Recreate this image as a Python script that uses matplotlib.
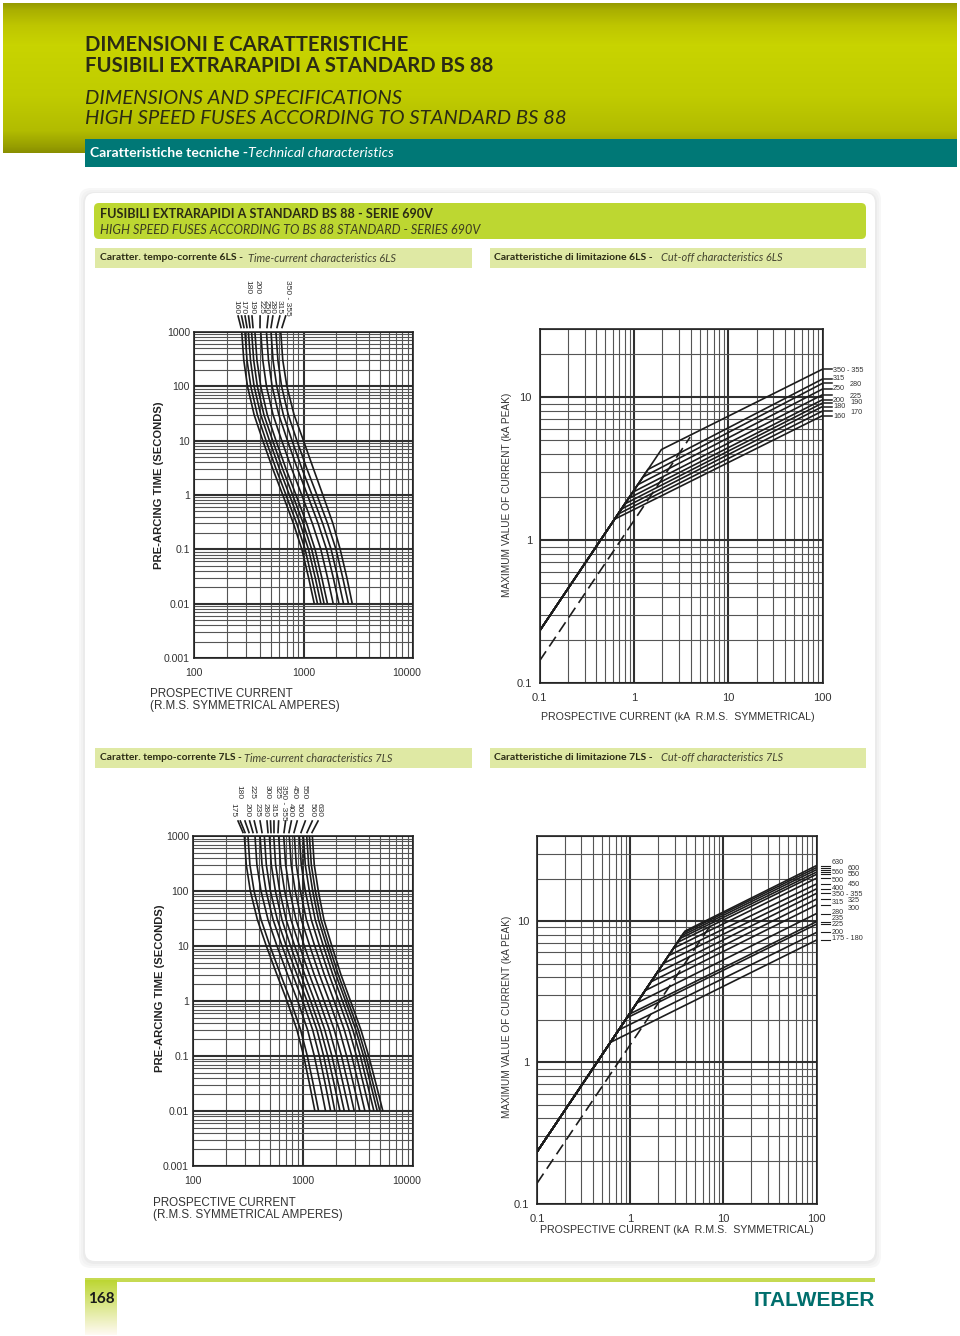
import numpy as np
import matplotlib
matplotlib.use('Agg')
import matplotlib.pyplot as plt
from matplotlib.patches import FancyBboxPatch, Rectangle
from matplotlib.transforms import ScaledTranslation

W, H = 960, 1336
ARIAL = 'Liberation Sans'
HEAD = 'Lato'

# time-current charts: prospective current (A) of each fuse at the listed times (s)
TIMES = [1000, 300, 100, 30, 10, 3, 1, 0.3, 0.1, 0.03, 0.01]

LS6_RATINGS = ['160', '170', '180', '190', '200', '225', '250', '280', '315', '350 - 355']
LS6_CURRENTS = [
    [273, 285, 308, 354, 425, 525, 647, 809, 966, 1113, 1254],
    [292, 305, 330, 379, 455, 562, 692, 866, 1034, 1191, 1342],
    [314, 328, 354, 407, 489, 604, 744, 930, 1111, 1280, 1442],
    [336, 351, 379, 435, 523, 646, 796, 995, 1188, 1369, 1542],
    [360, 376, 407, 467, 561, 693, 854, 1068, 1275, 1469, 1655],
    [407, 425, 459, 527, 633, 782, 964, 1205, 1439, 1658, 1868],
    [459, 479, 517, 595, 714, 882, 1087, 1359, 1623, 1870, 2107],
    [505, 527, 570, 655, 786, 971, 1197, 1497, 1787, 2059, 2320],
    [560, 584, 631, 726, 871, 1076, 1326, 1658, 1980, 2282, 2571],
    [620, 647, 705, 820, 1000, 1235, 1503, 1855, 2163, 2490, 2786],
]

LS7_RATINGS = ['175', '180', '200', '225', '235', '280', '300', '315', '325', '350 - 355',
               '400', '450', '500', '550', '560', '630']
LS7_CURRENTS = [
    [293, 305, 332, 385, 464, 580, 716, 880, 1014, 1150, 1282],
    [316, 329, 359, 416, 501, 626, 773, 950, 1095, 1242, 1385],
    [366, 381, 415, 481, 580, 725, 895, 1100, 1268, 1438, 1603],
    [407, 424, 461, 535, 645, 806, 995, 1223, 1409, 1599, 1782],
    [445, 464, 505, 585, 705, 882, 1088, 1338, 1541, 1748, 1949],
    [495, 515, 561, 644, 771, 955, 1174, 1448, 1680, 1925, 2167],
    [542, 564, 614, 703, 841, 1039, 1277, 1576, 1831, 2102, 2372],
    [601, 625, 681, 778, 929, 1144, 1406, 1735, 2021, 2325, 2628],
    [668, 695, 757, 864, 1029, 1266, 1554, 1922, 2238, 2580, 2923],
    [750, 781, 850, 966, 1152, 1411, 1732, 2140, 2492, 2885, 3282],
    [835, 869, 946, 1075, 1278, 1564, 1918, 2373, 2774, 3212, 3654],
    [926, 964, 1049, 1190, 1412, 1727, 2114, 2620, 3063, 3554, 4051],
    [1008, 1049, 1142, 1292, 1532, 1867, 2286, 2833, 3321, 3861, 4410],
    [1081, 1125, 1225, 1384, 1638, 1990, 2436, 3020, 3547, 4134, 4731],
    [1143, 1190, 1295, 1460, 1725, 2095, 2558, 3178, 3734, 4359, 5000],
    [1216, 1266, 1378, 1550, 1830, 2214, 2704, 3360, 3956, 4630, 5320],
]

# cut-off charts: line starts on the envelope, leaves it at a break, ends at 100 kA
CUT6_START = [0.1, 0.231]
CUT6_BREAK_X = [0.624, 0.68, 0.74, 0.80, 0.88, 0.97, 1.1, 1.25, 1.41, 1.96]
CUT6_BREAK_Y = [1.40, 1.52, 1.65, 1.79, 1.96, 2.16, 2.44, 2.76, 3.12, 4.30]
CUT6_END_Y = [7.43, 8.0, 8.6, 9.1, 9.6, 10.4, 11.4, 12.5, 13.4, 15.7]
CUT6_DASH_X = [0.1, 3.95]
CUT6_DASH_Y = [0.1426, 5.25]

CUT7_RATINGS = ['175 - 180', '200', '225', '235', '280', '300', '315', '325', '350 - 355',
                '400', '450', '500', '550', '560', '600', '630']
CUT7_START = [0.1, 0.232]
CUT7_BREAK_X = [0.61, 0.75, 0.92, 0.98, 1.18, 1.45, 1.67, 1.93, 2.27, 2.58, 2.92, 3.21, 3.43, 3.6, 3.76, 3.88]
CUT7_BREAK_Y = [1.38, 1.69, 2.06, 2.19, 2.63, 3.22, 3.71, 4.28, 5.01, 5.68, 6.42, 7.05, 7.52, 7.89, 8.24, 8.49]
CUT7_END_Y = [7.33, 8.3, 9.5, 9.9, 11.3, 13.0, 14.3, 15.7, 16.9, 18.3, 20.1, 21.4, 22.2, 23.1, 23.9, 24.7]
CUT7_DASH_X = [0.1, 8.15]
CUT7_DASH_Y = [0.139, 10.4]

TIME_XTICKS = [100, 1000, 10000]
TIME_YTICKS = [0.001, 0.01, 0.1, 1, 10, 100, 1000]
CUT_XTICKS = [0.1, 1, 10, 100]
CUT_YTICKS = [0.1, 1, 10]


def make_axes(fig, left, top, right, bottom):
    ax = fig.add_axes([left / W, 1 - bottom / H, (right - left) / W, (bottom - top) / H])
    ax.patch.set_alpha(0)
    ax.set_xscale('log')
    ax.set_yscale('log')
    ax.set_axisbelow(True)
    ax.grid(True, which='major', color='#303030', lw=1.5)
    ax.grid(True, which='minor', color='#555555', lw=0.8)
    ax.tick_params(which='both', length=0, labelcolor='#333333')
    for s in ax.spines.values():
        s.set_color('#222222')
        s.set_linewidth(1.2)
    return ax


def label_ticks(ax, xt, yt):
    ax.set_xticks(xt)
    ax.set_xticklabels([str(v) for v in xt], fontfamily=ARIAL)
    ax.set_yticks(yt)
    ax.set_yticklabels([str(v) for v in yt], fontfamily=ARIAL)
    ax.xaxis.set_minor_formatter(matplotlib.ticker.NullFormatter())
    ax.yaxis.set_minor_formatter(matplotlib.ticker.NullFormatter())


def time_chart(fig, box, currents):
    ax = make_axes(fig, *box)
    for row in currents:
        ax.plot(row, TIMES, color='#1c1c1c', lw=1.2, solid_capstyle='butt')
    ax.set_xlim(100, 10000)
    ax.set_ylim(0.001, 1000)
    label_ticks(ax, TIME_XTICKS, TIME_YTICKS)
    ax.tick_params(axis='x', labelsize=7.6, pad=7.5)
    ax.tick_params(axis='y', labelsize=7.6, pad=3)
    # the 10000 label sits a little inside the axis end
    last = ax.get_xticklabels()[-1]
    last.set_transform(last.get_transform() + ScaledTranslation(-6 / 100, 0, fig.dpi_scale_trans))
    return ax


def cut_chart(fig, box, ymax, start, bx, by, ey, dx, dy, lead, lead_lw):
    ax = make_axes(fig, *box)
    for i in range(len(bx)):
        ax.plot([start[0], bx[i], 100], [start[1], by[i], ey[i]], color='#1c1c1c', lw=1.2)
        # short lead line to the rating label
        ax.plot(lead, [ey[i], ey[i]], color='#1c1c1c', lw=lead_lw,
                transform=ax.get_yaxis_transform(), clip_on=False)
    ax.plot(dx, dy, color='#1c1c1c', lw=1.2, dashes=(7, 3.5))
    ax.set_xlim(0.1, 100)
    ax.set_ylim(0.1, ymax)
    label_ticks(ax, CUT_XTICKS, CUT_YTICKS)
    ax.tick_params(axis='x', labelsize=8, pad=7.5)
    ax.tick_params(axis='y', labelsize=8, pad=5.5)
    return ax


fig = plt.figure(figsize=(W / 100, H / 100), dpi=100, facecolor='white')
page = fig.add_axes([0, 0, 1, 1])
page.axis('off')

# header band
stops_y = [3, 10, 25, 45, 95, 130, 146, 153]
stops_r = [150, 170, 190, 200, 192, 178, 150, 135]
stops_g = [155, 176, 198, 212, 204, 188, 158, 140]
rows = np.arange(3, 153)
band = np.zeros((len(rows), 1, 3))
band[:, 0, 0] = np.interp(rows, stops_y, stops_r) / 255
band[:, 0, 1] = np.interp(rows, stops_y, stops_g) / 255
page.imshow(band, extent=(3, 957, 153, 3), aspect='auto', zorder=1)
page.set_xlim(0, W)
page.set_ylim(H, 0)
page.add_patch(Rectangle((85, 139), 872, 28, fc='#007876', ec='none', zorder=2))

# white card with a soft shadow
for grow, col in [(6, '#f7f7f7'), (4, '#f2f2f2'), (2, '#ebebeb')]:
    page.add_patch(FancyBboxPatch((85 - grow, 193 - grow + 1), 790 + 2 * grow, 1068 + 2 * grow,
                                  boxstyle='round,pad=0,rounding_size=12', fc=col, ec='none', zorder=1))
page.add_patch(FancyBboxPatch((85, 193), 790, 1068, boxstyle='round,pad=0,rounding_size=10',
                              fc='white', ec='none', zorder=2))
page.add_patch(FancyBboxPatch((94, 203), 772, 36, boxstyle='round,pad=0,rounding_size=5',
                              fc='#bdd731', ec='none', zorder=3))
for x0, x1 in [(95, 472), (490, 866)]:
    for y0 in [248, 748]:
        page.add_patch(Rectangle((x0, y0), x1 - x0, 20, fc='#dfe9a4', ec='none', zorder=3))


def t(x, y, s, size, **kw):
    kw.setdefault('family', HEAD)
    kw.setdefault('color', '#2b2b14')
    kw.setdefault('va', 'center')
    page.text(x, y, s, fontsize=size, zorder=5, **kw)


t(85, 45, 'DIMENSIONI E CARATTERISTICHE', 14.6, weight='bold')
t(85, 66, 'FUSIBILI EXTRARAPIDI A STANDARD BS 88', 14.6, weight='bold')
t(85, 98, 'DIMENSIONS AND SPECIFICATIONS', 14.6, style='italic')
t(85, 119, 'HIGH SPEED FUSES ACCORDING TO STANDARD BS 88', 14.6, style='italic')
t(90, 153, 'Caratteristiche tecniche -', 10.1, color='white', weight='bold')
t(248, 153, 'Technical characteristics', 10.3, color='white', style='italic')
t(100, 214, 'FUSIBILI EXTRARAPIDI A STANDARD BS 88 - SERIE 690V', 9.1, weight='bold')
t(100, 230, 'HIGH SPEED FUSES ACCORDING TO BS 88 STANDARD - SERIES 690V', 9.05, style='italic', color='#3d3d20')
t(100, 258, 'Caratter. tempo-corrente 6LS -', 7.5, weight='bold')
t(248, 258, 'Time-current characteristics 6LS', 7.9, style='italic', color='#444430')
t(494, 258, 'Caratteristiche di limitazione 6LS -', 7.5, weight='bold')
t(661, 258, 'Cut-off characteristics 6LS', 7.9, style='italic', color='#444430')
t(100, 758, 'Caratter. tempo-corrente 7LS -', 7.4, weight='bold')
t(244, 758, 'Time-current characteristics 7LS', 7.9, style='italic', color='#444430')
t(494, 758, 'Caratteristiche di limitazione 7LS -', 7.5, weight='bold')
t(661, 758, 'Cut-off characteristics 7LS', 7.9, style='italic', color='#444430')

# footer
page.add_patch(Rectangle((85, 1278), 790, 3.5, fc='#c6da52', ec='none', zorder=2))
fade = np.linspace(0, 1, 55).reshape(-1, 1, 1) * np.array([[[0.26, 0.14, 0.75]]])
page.imshow(np.clip(np.array([[[0.74, 0.84, 0.2]]]) + fade, 0, 1), extent=(85, 117, 1335, 1280),
            aspect='auto', zorder=2)
page.set_xlim(0, W)
page.set_ylim(H, 0)
t(101, 1299, '168', 11, weight='bold', ha='center', color='#1a1a1a')
t(875, 1300, 'ITALWEBER', 15, family=ARIAL, weight='bold', ha='right', color='#006e6c')

# charts
time_chart(fig, (194, 332, 413, 658), LS6_CURRENTS)
time_chart(fig, (193, 836, 413, 1166), LS7_CURRENTS)
cut_chart(fig, (539.5, 329, 822.5, 683), 30, CUT6_START, CUT6_BREAK_X, CUT6_BREAK_Y, CUT6_END_Y,
          CUT6_DASH_X, CUT6_DASH_Y, [1.0, 1.033], 1.1)
cut_chart(fig, (537, 836, 816.5, 1203.5), 40, CUT7_START, CUT7_BREAK_X, CUT7_BREAK_Y, CUT7_END_Y,
          CUT7_DASH_X, CUT7_DASH_Y, [1.015, 1.05], 0.8)


def a(x, y, s, size=8.4, **kw):
    kw.setdefault('color', '#333333')
    t(x, y, s, size, family=ARIAL, **kw)


a(159, 485, 'PRE-ARCING TIME (SECONDS)', 8.1, rotation=90, ha='center', weight='bold', color='#222222')
a(160, 988, 'PRE-ARCING TIME (SECONDS)', 8.1, rotation=90, ha='center', weight='bold', color='#222222')
a(150, 694, 'PROSPECTIVE CURRENT', 8.4)
a(150, 706, '(R.M.S. SYMMETRICAL AMPERES)', 8.4)
a(153, 1203, 'PROSPECTIVE CURRENT', 8.4)
a(153, 1215, '(R.M.S. SYMMETRICAL AMPERES)', 8.4)
a(507, 495, 'MAXIMUM VALUE OF CURRENT (kA PEAK)', 7.3, rotation=90, ha='center')
a(507, 1017, 'MAXIMUM VALUE OF CURRENT (kA PEAK)', 7.2, rotation=90, ha='center')
a(541, 717, 'PROSPECTIVE CURRENT (kA  R.M.S.  SYMMETRICAL)', 7.7)
a(540, 1230, 'PROSPECTIVE CURRENT (kA  R.M.S.  SYMMETRICAL)', 7.7)

# rating labels over the time-current charts: x, top of the text, then the lead line
LS6_LABEL_X = [236, 243, 248, 252, 257, 261, 266, 272, 279, 287]
LS6_LABEL_TOP = [300, 300, 280, 300, 280, 300, 300, 300, 300, 280]
LS6_TICK_X = [241, 244, 247, 250, 253, 260, 267, 271, 277, 282]
LS7_LABEL_X = [233, 239, 247, 252, 257, 265, 267, 273, 277, 284, 290, 294, 299, 304, 312, 319]
LS7_LABEL_TOP = [803, 785, 803, 785, 803, 803, 785, 803, 785, 785, 803, 785, 803, 785, 803, 803]
LS7_TICK_X = [243, 245, 249, 253, 257, 262, 268, 271, 274, 278, 284, 289, 294, 301, 307, 312]

for names, lx, ltop, tx, y0 in [(LS6_RATINGS, LS6_LABEL_X, LS6_LABEL_TOP, LS6_TICK_X, 316),
                                (LS7_RATINGS, LS7_LABEL_X, LS7_LABEL_TOP, LS7_TICK_X, 821)]:
    mid = np.mean(tx)
    for i in range(len(names)):
        a(lx[i], ltop[i], names[i], 6, rotation=270, ha='center', va='top')
        lean = (tx[i] - mid) * 0.16
        page.plot([tx[i] + lean, tx[i]], [y0, y0 + 11.5], color='#1c1c1c', lw=1.2, zorder=4)

# rating labels right of the cut-off charts
CUT6_LABEL_X = [833, 850, 833, 850, 833, 850, 833, 850, 833, 833]
CUT6_LABEL_Y = [416, 412, 407, 403, 400, 396, 389, 384, 379, 370]
CUT7_LABEL_X = [832, 832, 832, 832, 832, 848, 832, 848, 832, 832, 848, 832, 848, 832, 848, 832]
CUT7_LABEL_Y = [939, 932, 924, 919, 912, 908, 903, 900, 894, 888, 884, 880, 875, 872, 868, 863]
for i in range(len(LS6_RATINGS)):
    a(CUT6_LABEL_X[i], CUT6_LABEL_Y[i], LS6_RATINGS[i], 5.2)
for i in range(len(CUT7_RATINGS)):
    a(CUT7_LABEL_X[i], CUT7_LABEL_Y[i], CUT7_RATINGS[i], 5.2)

fig.savefig('out.png', dpi=100)
